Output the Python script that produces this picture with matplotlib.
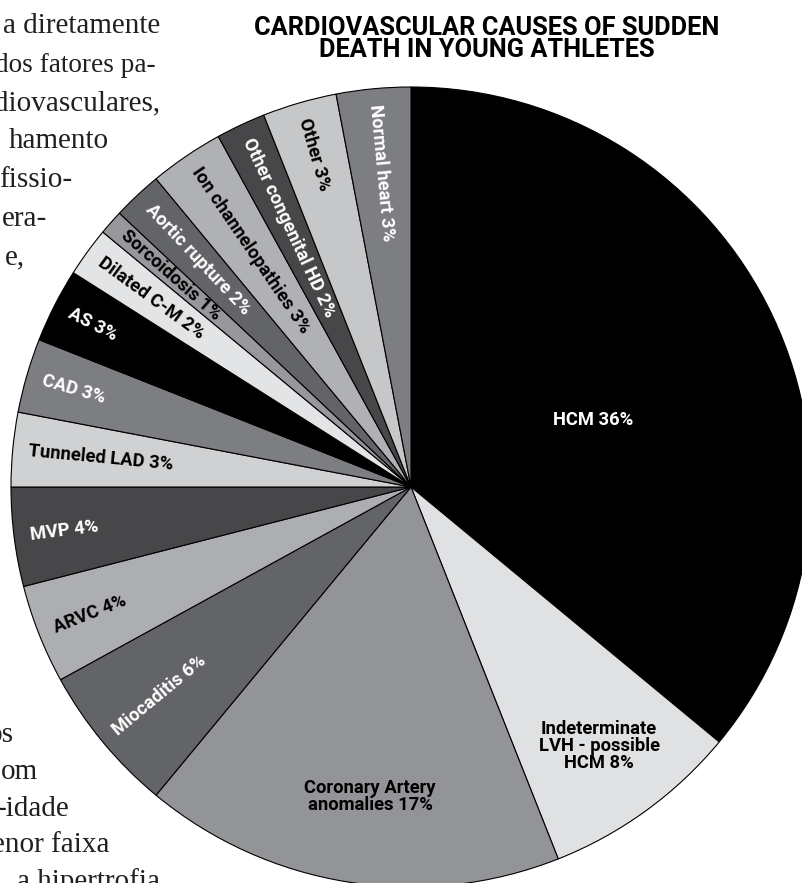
import numpy as np
import matplotlib
matplotlib.use("Agg")
import matplotlib.pyplot as plt

# data
causes = ["HCM", "Indeterminate\nLVH - possible\nHCM", "Coronary Artery\nanomalies",
          "Miocaditis", "ARVC", "MVP", "Tunneled LAD", "CAD", "AS", "Dilated C-M",
          "Sorcoidosis", "Aortic rupture", "Ion channelopathies",
          "Other congenital HD", "Other", "Normal heart"]
shares = [36, 8, 17, 6, 4, 4, 3, 3, 3, 2, 1, 2, 3, 2, 3, 3]

# styling
fills = ["#000000", "#e0e1e3", "#939498", "#636467", "#adaeb1", "#47474a",
         "#d0d1d3", "#7d7e81", "#000000", "#e3e4e6", "#97989b", "#636467",
         "#b0b1b4", "#47474a", "#c6c7c9", "#7d7e82"]
text_colors = ["white", "black", "black", "white", "black", "white", "black",
               "white", "white", "black", "black", "white", "black", "white",
               "black", "white"]
# horizontal labels for the big slices: (radius fraction, angle offset)
flat_labels = {0: (0.485, -5.0), 1: (0.80, 0.0), 2: (0.78, 1.5)}

W, H = 802, 883
cx, cy, R = 411, H - 487, 400

fig = plt.figure(figsize=(W / 100, H / 100), dpi=100)
ax = fig.add_axes([0, 0, 1, 1])

wedges, _ = ax.pie(shares, colors=fills, startangle=90, counterclock=False,
                   radius=R, center=(cx, cy), frame=True,
                   wedgeprops=dict(edgecolor="black", linewidth=0.8))

label_font = dict(family=["Roboto", "DejaVu Sans"], fontweight="bold")
for i, w in enumerate(wedges):
    label = f"{causes[i]} {shares[i]}%"
    mid = (w.theta1 + w.theta2) / 2
    if i in flat_labels:
        frac, off = flat_labels[i]
        a = np.deg2rad(mid + off)
        ax.text(cx + frac * R * np.cos(a), cy + frac * R * np.sin(a), label,
                ha="center", va="center", fontsize=13.2, color=text_colors[i],
                linespacing=0.95, **label_font)
    else:
        a = np.deg2rad(mid)
        ax.text(cx + 0.96 * R * np.cos(a), cy + 0.96 * R * np.sin(a), label,
                ha="left", va="center", rotation=mid - 180,
                rotation_mode="anchor", fontsize=13.2, color=text_colors[i],
                **label_font)

ax.set_xlim(0, W)
ax.set_ylim(0, H)
ax.set_aspect("equal")
ax.axis("off")

# title
ax.text(487, H - 39, "CARDIOVASCULAR CAUSES OF SUDDEN\nDEATH IN YOUNG ATHLETES",
        ha="center", va="center", fontsize=18.3, fontweight="bold",
        family=["Roboto", "DejaVu Sans"], linespacing=0.85)

# surrounding article text (cut off at the page edge)
top_lines = ["a diretamente", "dos fatores pa-", "diovasculares,", "hamento",
             "fissio-", "era-", "e,"]
top_ends = [160, 156, 160, 109, 72, 47, 25]
bottom_lines = ["os", "om", "-idade", "enor faixa", "a hipertrofia"]
bottom_ends = [14, 38, 70, 110, 160]
tight_lines = {1: 19.6}  # justified line with narrow word spacing

serif = dict(family=["Liberation Serif", "DejaVu Serif"], color="#231f20")
for k, (s, x) in enumerate(zip(top_lines, top_ends)):
    ax.text(x, H - (33 + 38.5 * k), s, ha="right", va="baseline",
            fontsize=tight_lines.get(k, 21), **serif)
for k, (s, x) in enumerate(zip(bottom_lines, bottom_ends)):
    ax.text(x, H - (742 + 36.8 * k), s, ha="right", va="baseline",
            fontsize=21, **serif)

fig.savefig("out.png", dpi=100)
